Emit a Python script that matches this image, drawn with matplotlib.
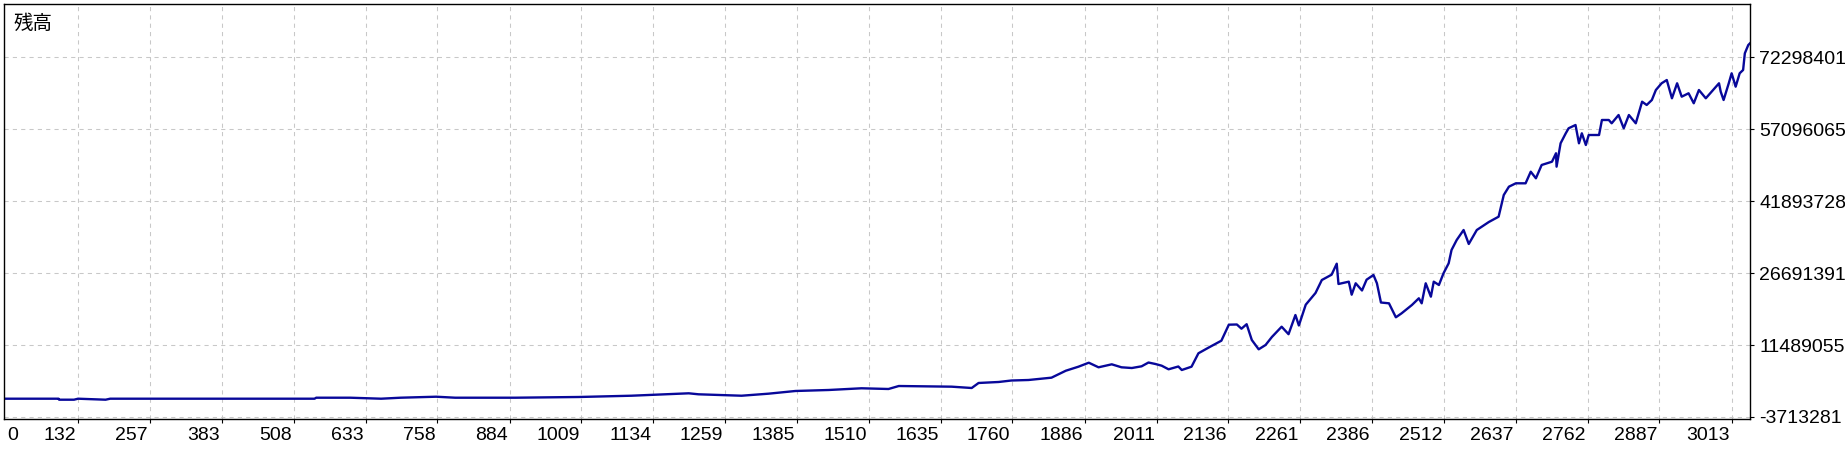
import numpy as np
import matplotlib.pyplot as plt
import matplotlib.transforms as mtransforms

plt.rcParams['font.family'] = ['Liberation Sans', 'DejaVu Sans']

# trade number and balance (millions)
trades = [0, 98, 99, 125, 132, 180, 188, 544, 547, 606, 660, 694, 756, 789, 894,
          1004, 1096, 1196, 1213, 1288, 1335, 1382, 1440, 1497, 1544, 1562, 1654,
          1689, 1701, 1736, 1758, 1788, 1828, 1853, 1875, 1893, 1910, 1933, 1950,
          1968, 1985, 1997, 2009, 2020, 2032, 2049, 2055, 2072, 2084, 2102, 2124,
          2137, 2151, 2159, 2168, 2177, 2189, 2201, 2212, 2229, 2241, 2253, 2259,
          2271, 2288, 2299, 2316, 2325, 2328, 2346, 2351, 2358, 2369, 2377, 2389,
          2395, 2402, 2416, 2428, 2438, 2456, 2468, 2473, 2480, 2489, 2494, 2503,
          2511, 2520, 2525, 2534, 2546, 2555, 2569, 2590, 2607, 2616, 2625, 2637,
          2654, 2663, 2672, 2682, 2700, 2707, 2708, 2715, 2724, 2729, 2741, 2747,
          2752, 2759, 2764, 2782, 2787, 2799, 2804, 2816, 2825, 2834, 2846, 2857,
          2865, 2874, 2881, 2891, 2900, 2909, 2918, 2926, 2938, 2947, 2956, 2968,
          2978, 2991, 2994, 2999, 3008, 3013, 3020, 3027, 3033, 3036, 3042, 3045]
balance_m = [0.15, 0.15, -0.06, -0.06, 0.15, -0.06, 0.15, 0.15, 0.36, 0.36, 0.15,
             0.36, 0.57, 0.36, 0.36, 0.51, 0.78, 1.29, 1.08, 0.78, 1.21, 1.78, 1.99,
             2.35, 2.20, 2.83, 2.69, 2.41, 3.47, 3.68, 3.99, 4.10, 4.59, 6.06, 6.91,
             7.75, 6.78, 7.41, 6.78, 6.63, 6.99, 7.79, 7.48, 7.12, 6.36, 6.95, 6.21,
             6.91, 9.74, 10.96, 12.40, 15.78, 15.82, 14.93, 15.88, 12.55, 10.58,
             11.49, 13.18, 15.35, 13.77, 17.82, 15.61, 20.00, 22.47, 25.21, 26.33,
             28.66, 24.37, 24.86, 22.11, 24.52, 23.00, 25.28, 26.27, 24.52, 20.46,
             20.29, 17.34, 18.18, 19.94, 21.35, 20.29, 24.52, 21.69, 24.86, 24.16,
             26.63, 28.74, 31.55, 33.66, 35.77, 32.82, 35.77, 37.46, 38.58, 43.16,
             44.92, 45.63, 45.63, 48.08, 46.69, 49.50, 50.19, 51.97, 49.14, 54.08,
             56.19, 57.25, 57.94, 54.08, 56.19, 53.72, 55.83, 55.83, 59.00, 59.00,
             58.30, 60.05, 57.25, 60.05, 58.30, 62.86, 62.17, 63.22, 65.33, 66.75,
             67.44, 63.58, 66.75, 63.92, 64.64, 62.53, 65.33, 63.58, 64.97, 66.75,
             64.97, 63.22, 66.75, 68.86, 66.03, 68.86, 69.56, 73.08, 74.83, 75.19]

x_ticks = [132, 257, 383, 508, 633, 758, 884, 1009, 1134, 1259, 1385, 1510, 1635,
           1760, 1886, 2011, 2136, 2261, 2386, 2512, 2637, 2762, 2887, 3013]
y_ticks = [-3713281, 11489055, 26691391, 41893728, 57096065, 72298401]

fig = plt.figure(figsize=(18.45, 4.5), dpi=100)
ax = fig.add_axes([4 / 1845, 31.5 / 450, 1746 / 1845, 414.5 / 450])

ax.plot(trades, np.array(balance_m) * 1e6, color='#08089A', lw=1.7)

ax.set_xlim(3, 3045)
ax.set_ylim(-4030000, 83490000)

ax.set_xticks(x_ticks)
ax.set_xticklabels([str(t) for t in x_ticks])
ax.set_yticks(y_ticks)
ax.set_yticklabels([str(t) for t in y_ticks])
ax.yaxis.tick_right()

ax.tick_params(axis='both', direction='out', length=3, width=0.8, color='black',
               labelsize=14, labelcolor='black')
ax.tick_params(axis='x', pad=3)
ax.tick_params(axis='y', pad=3.5)

# labels sit to the left of their tick
shift = mtransforms.ScaledTranslation(-2 / 100, 0, fig.dpi_scale_trans)
for lab in ax.get_xticklabels():
    lab.set_horizontalalignment('right')
    lab.set_transform(lab.get_transform() + shift)

ax.text(3 / 1746, -0.02, '0', transform=ax.transAxes, ha='left', va='top',
        fontsize=14)

ax.grid(True, color='#C8C8C8', linestyle=(0, (4, 4)), linewidth=0.75)
ax.set_axisbelow(True)

for s in ax.spines.values():
    s.set_color('black')
    s.set_linewidth(1.0)

ax.text(10 / 1746, 0.978, '残高', transform=ax.transAxes, ha='left', va='top',
        fontsize=14, family=['Noto Sans CJK JP', 'DejaVu Sans'])

fig.savefig('out.png', dpi=100)
